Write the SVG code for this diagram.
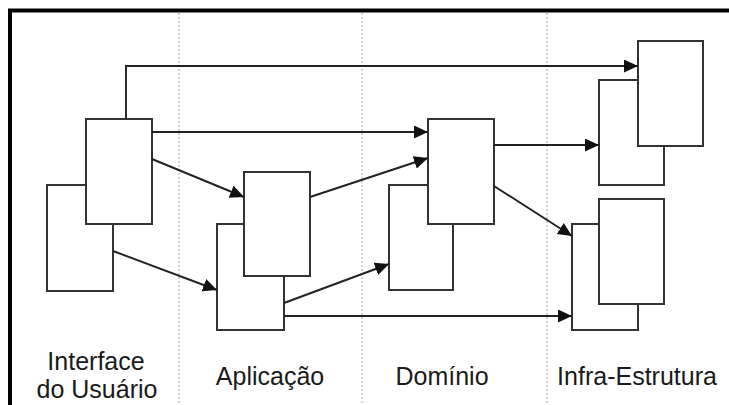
<svg xmlns="http://www.w3.org/2000/svg" width="729" height="405" viewBox="0 0 729 405">
  <style>
    .frame { fill: none; stroke: #000; stroke-width: 4; }
    .divider { fill: none; stroke: #b5b5b5; stroke-width: 1.2; stroke-dasharray: 2 2; }
    .box { fill: #fff; stroke: #333; stroke-width: 2; }
    .link { fill: none; stroke: #222; stroke-width: 1.9; }
    .label { font-family: "Liberation Sans", Arial, sans-serif; font-size: 25px; fill: #1a1a1a; text-anchor: middle; }
  </style>
  <defs>
    <marker id="arrow" markerUnits="userSpaceOnUse" markerWidth="16" markerHeight="14" refX="14" refY="6.5" orient="auto">
      <path d="M0,0 L14,6.5 L0,13 z" fill="#111"/>
    </marker>
  </defs>

  <rect width="729" height="405" fill="#fff"/>

  <!-- outer frame (left and top edges) -->
  <path class="frame" d="M10,405 V10.5 H729"/>

  <!-- layer separators -->
  <g id="separators">
    <line class="divider" x1="179" y1="13" x2="179" y2="405"/>
    <line class="divider" x1="362" y1="13" x2="362" y2="405"/>
    <line class="divider" x1="547" y1="13" x2="547" y2="405"/>
  </g>

  <!-- Interface do Usuário -->
  <g id="ui-back"><rect class="box" x="47" y="185" width="66" height="106"/></g>
  <g id="ui-front"><rect class="box" x="86" y="119" width="66" height="105"/></g>

  <!-- Aplicação -->
  <g id="app-back"><rect class="box" x="217" y="224" width="67" height="106"/></g>
  <g id="app-front"><rect class="box" x="244" y="172" width="66" height="104"/></g>

  <!-- Domínio -->
  <g id="domain-back"><rect class="box" x="389" y="185" width="64" height="105"/></g>
  <g id="domain-front"><rect class="box" x="428" y="119" width="66" height="105"/></g>

  <!-- Infra-Estrutura, upper pair -->
  <g id="infra-top-back"><rect class="box" x="599" y="80" width="65" height="105"/></g>
  <g id="infra-top-front"><rect class="box" x="638" y="41" width="65" height="105"/></g>

  <!-- Infra-Estrutura, lower pair -->
  <g id="infra-bottom-back"><rect class="box" x="572" y="224" width="66" height="106"/></g>
  <g id="infra-bottom-front"><rect class="box" x="599" y="199" width="65" height="105"/></g>

  <!-- dependencies between layers -->
  <g id="connectors">
    <path class="link" d="M126,119 V66 H638" marker-end="url(#arrow)"/>
    <path class="link" d="M152,132 H428" marker-end="url(#arrow)"/>
    <path class="link" d="M152,159 L244,197" marker-end="url(#arrow)"/>
    <path class="link" d="M113,251 L217,290" marker-end="url(#arrow)"/>
    <path class="link" d="M310,197 L428,158" marker-end="url(#arrow)"/>
    <path class="link" d="M284,303 L389,264" marker-end="url(#arrow)"/>
    <path class="link" d="M284,316 H572" marker-end="url(#arrow)"/>
    <path class="link" d="M494,145 H599" marker-end="url(#arrow)"/>
    <path class="link" d="M494,186 L572,236" marker-end="url(#arrow)"/>
  </g>

  <!-- layer names -->
  <g id="labels">
    <text class="label" x="96" y="370">Interface</text>
    <text class="label" x="97" y="398">do Usuário</text>
    <text class="label" x="270" y="385">Aplicação</text>
    <text class="label" x="442" y="385">Domínio</text>
    <text class="label" x="637" y="385">Infra-Estrutura</text>
  </g>
</svg>
